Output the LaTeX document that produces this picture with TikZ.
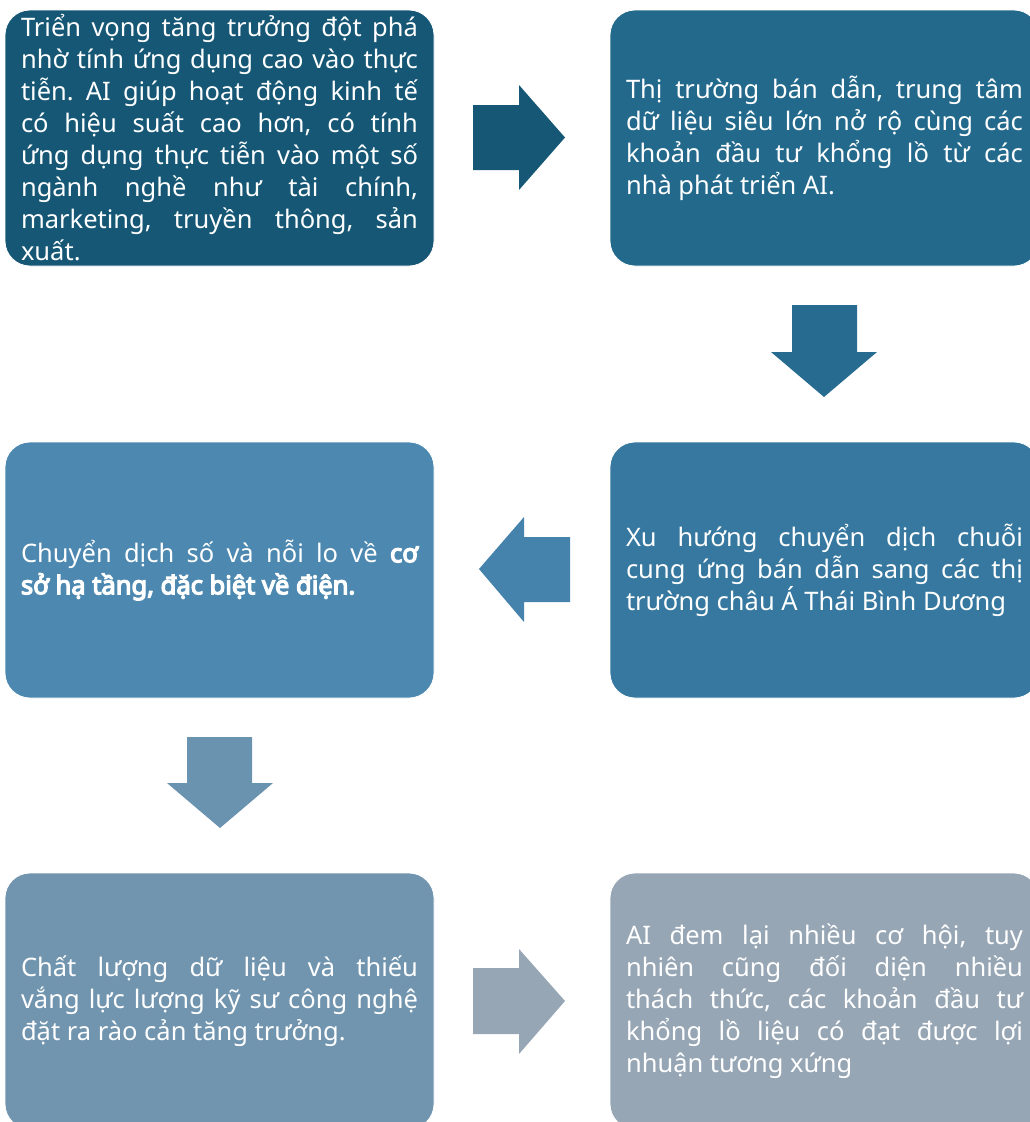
\documentclass[tikz,border=0pt]{standalone}
\usepackage{fontspec}
\setmainfont{Noto Sans}[AutoFakeBold=5]
\definecolor{c1}{HTML}{155775}
\definecolor{c2}{HTML}{22698C}
\definecolor{c3}{HTML}{36789F}
\definecolor{c4}{HTML}{4C88B0}
\definecolor{c5}{HTML}{7195AF}
\definecolor{c6}{HTML}{97A6B5}
\definecolor{a2}{HTML}{276C90}
\definecolor{a3}{HTML}{4583AC}
\definecolor{a4}{HTML}{6A93B0}
\hyphenpenalty=10000
\exhyphenpenalty=10000
\tolerance=10000
\hbadness=10000
\frenchspacing
\begin{document}
\begin{tikzpicture}[x=1pt,y=-1pt,
  box/.style={rounded corners=25pt, draw=white, line width=0.8pt,
    minimum width=429pt, minimum height=256pt, inner xsep=16pt, inner ysep=0pt,
    text width=397pt, align=justify, text=white,
    font=\fontsize{25.5}{32}\selectfont\frenchspacing}]
\useasboundingbox (0,0) rectangle (1030,1122);

\node[box, fill=c1] (b1) at (219.5,138) {Triển vọng tăng trưởng đột phá\linebreak nhờ tính ứng dụng cao vào thực\linebreak tiễn. AI giúp hoạt động kinh tế\linebreak có hiệu suất cao hơn, có tính\linebreak ứng dụng thực tiễn vào một số\linebreak ngành nghề như tài chính,\linebreak marketing, truyền thông, sản\linebreak xuất.};

\node[box, fill=c2] (b2) at (824.5,138) {Thị trường bán dẫn, trung tâm\linebreak dữ liệu siêu lớn nở rộ cùng các\linebreak khoản đầu tư khổng lồ từ các\linebreak nhà phát triển AI.};

\node[box, fill=c3] (b3) at (824.5,570) {Xu hướng chuyển dịch chuỗi\linebreak cung ứng bán dẫn sang các thị\linebreak trường châu Á Thái Bình Dương};

\node[box, fill=c4] (b4) at (219.5,570) {Chuyển dịch số và nỗi lo về \textbf{cơ\linebreak sở hạ tầng, đặc biệt về điện.}};

\node[box, fill=c5] (b5) at (219.5,1001) {Chất lượng dữ liệu và thiếu\linebreak vắng lực lượng kỹ sư công nghệ\linebreak đặt ra rào cản tăng trưởng.};

\node[box, fill=c6] (b6) at (824.5,1001) {AI đem lại nhiều cơ hội, tuy\linebreak nhiên cũng đối diện nhiều\linebreak thách thức, các khoản đầu tư\linebreak khổng lồ liệu có đạt được lợi\linebreak nhuận tương xứng};

% block arrows
\fill[c1] (473,105) -- (519,105) -- (519,85) -- (565,137.5) -- (519,190) -- (519,170) -- (473,170) -- cycle;
\fill[a2] (792,305) -- (857,305) -- (857,352) -- (877,352) -- (824,397) -- (771,352) -- (792,352) -- cycle;
\fill[a3] (570,537) -- (524,537) -- (524,517) -- (479,569) -- (524,622) -- (524,602) -- (570,602) -- cycle;
\fill[a4] (187,737) -- (252,737) -- (252,783) -- (273,783) -- (220,828) -- (167,783) -- (187,783) -- cycle;
\fill[c6] (473,968) -- (519,968) -- (519,949) -- (565,1001) -- (519,1054) -- (519,1034) -- (473,1034) -- cycle;
\end{tikzpicture}
\end{document}
